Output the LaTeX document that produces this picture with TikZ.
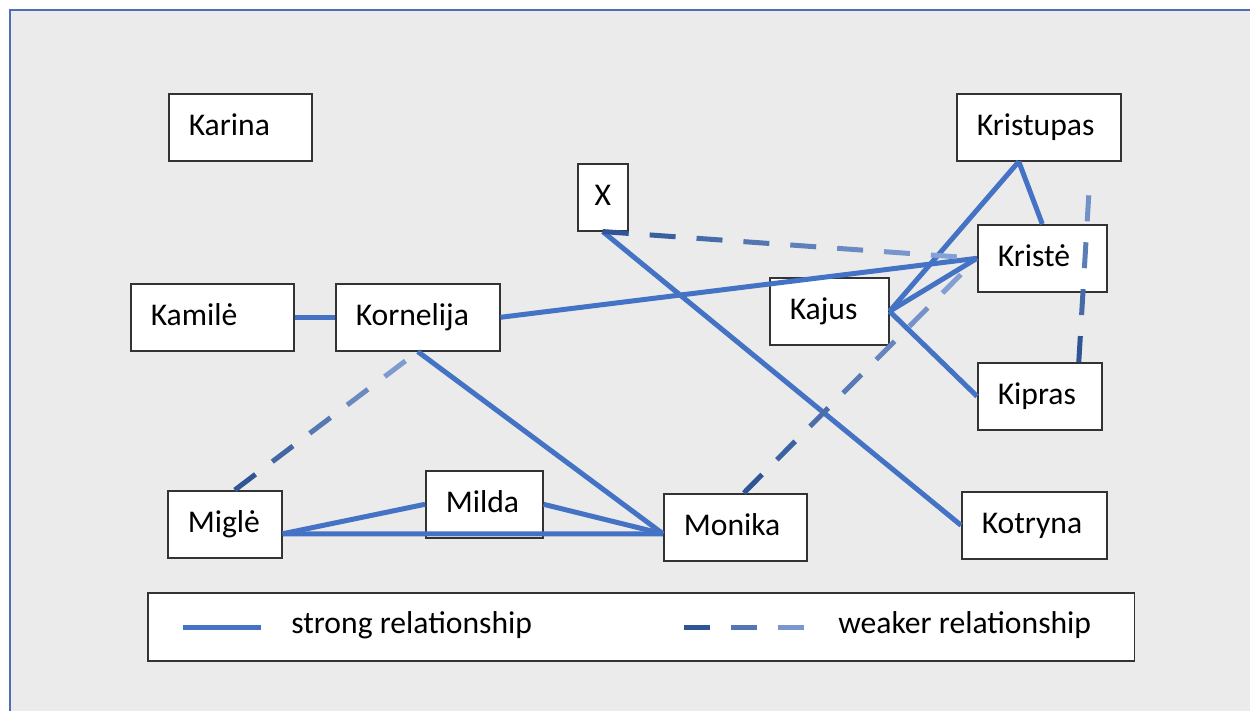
\documentclass[tikz,border=0pt]{standalone}
\usepackage{fontspec}
\setmainfont{Carlito}
\usetikzlibrary{decorations.markings}

\definecolor{strongblue}{HTML}{4472C4}
\definecolor{weakdark}{HTML}{2F5597}
\definecolor{weaklight}{HTML}{8FAADC}
\definecolor{framebg}{HTML}{EBEBEB}
\definecolor{frameline}{HTML}{4F6FB0}

\tikzset{
  box/.style={draw=black!80, line width=0.9pt, fill=white, anchor=north west,
    minimum height=1.34cm, inner xsep=0.4cm, align=left, text width=#1,
    text height=0.47cm, text depth=0.13cm},
  strong/.style={strongblue, line width=0.1cm},
  weakdash/.style={line width=0.1cm},
  weak/.style={decorate, decoration={markings,
    mark=between positions 0 and -0.52cm step 0.94cm with {
      \pgfmathtruncatemacro\shade{100-100*(\pgfkeysvalueof{/pgf/decoration/mark info/distance from start}/\pgfdecoratedpathlength)}
      \draw[weakdash, weakdark!\shade!weaklight] (0pt,0pt) -- (0.52cm,0pt);}}}
}

\begin{document}
\begin{tikzpicture}[x=0.02cm, y=-0.02cm, font=\fontsize{18}{22}\selectfont]
\useasboundingbox (0,0) rectangle (1250,711);
\fill[framebg] (10,10) rectangle (1250,711);
\draw[frameline, line width=1.2pt] (10,711) -- (10,10) -- (1250,10);

% people
\node[box=2.06cm] (karina) at (168,93) {Karina};
\node[box=2.46cm] (kamile) at (130,283) {Kamilė};
\node[box=2.48cm] (kornelija) at (335,283) {Kornelija};
\node[box=0.5cm, inner xsep=0.25cm, align=center] (x) at (577,163) {X};
\node[box=2.48cm] (kristupas) at (956,93) {Kristupas};
\node[box=1.78cm] (kriste) at (977,224) {Kristė};
\node[box=1.58cm] (kajus) at (769,277) {Kajus};
\node[box=1.68cm] (kipras) at (977,362) {Kipras};
\node[box=2.1cm] (kotryna) at (961,491) {Kotryna};
\node[box=1.48cm] (migle) at (167,490) {Miglė};
\node[box=1.54cm] (milda) at (425,470) {Milda};
\node[box=2.06cm] (monika) at (663,493) {Monika};

\coordinate (mo) at ([yshift=-0.13cm]monika.west);
\coordinate (mi) at ([yshift=-0.19cm]migle.east);
\coordinate (ku) at ([xshift=-0.4cm]kristupas.south);

% strong relationships
\draw[strong] (kamile.east) -- (kornelija.west);
\draw[strong] (kornelija.east) -- (kriste.west);
\draw[strong] (kornelija.south) -- (mo);
\draw[strong] (mi) -- (milda.west);
\draw[strong] (mi) -- (mo);
\draw[strong] (milda.east) -- (mo);
\draw[strong] (x.south) -- (kotryna.west);
\draw[strong] (kajus.east) -- (ku);
\draw[strong] (ku) -- (kriste.north);
\draw[strong] (kajus.east) -- (kriste.west);
\draw[strong] (kajus.east) -- (kipras.west);

% weaker relationships
\path[weak] (x.south) -- (kriste.west);
\path[weak] ([xshift=0.2cm]migle.north) -- (kornelija.south);
\path[weak] ([xshift=0.17cm]monika.north) -- (kriste.west);
\path[weak] ([xshift=0.78cm]kipras.north) -- ([xshift=1.04cm]kristupas.south);

% legend
\node[draw=black!80, line width=0.9pt, fill=white, anchor=north west,
  minimum width=19.74cm, minimum height=1.36cm, inner sep=0pt] (legend) at (147,592) {};
\coordinate (s1) at (183,627);
\coordinate (s2) at (261,627);
\draw[strong] (s1) -- (s2);
\node[anchor=base west, inner sep=0pt] (stronglabel) at (291,633) {strong relationship};
\coordinate (w1) at (684,627);
\coordinate (w2) at (805,627);
\path[weak] (w1) -- (w2);
\node[anchor=base west, inner sep=0pt] (weaklabel) at (838,633) {weaker relationship};
\end{tikzpicture}
\end{document}
